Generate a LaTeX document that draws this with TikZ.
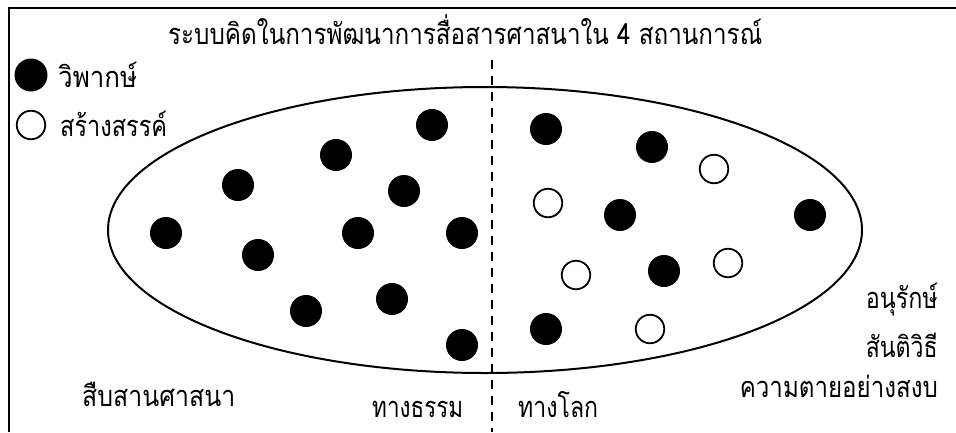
\documentclass[tikz,border=0pt]{standalone}
\usepackage{fontspec}
\usepackage{graphicx}
\usetikzlibrary{shapes.geometric}
\newfontfamily\thai[Script=Thai]{Loma}
\newcommand{\tw}[2]{\resizebox{#1}{\height}{#2}}
\begin{document}
\begin{tikzpicture}[x=1pt,y=-1pt,
  lbl/.style={font=\thai\fontsize{29}{32}\selectfont, inner sep=0pt},
  fdot/.style={circle, fill=black, minimum size=32pt, inner sep=0pt},
  odot/.style={circle, draw=black, line width=1.8pt, fill=white, minimum size=28.5pt, inner sep=0pt},
  frame/.style={line width=2.2pt},
  divider/.style={line width=2pt, dash pattern=on 9pt off 7pt}]
\useasboundingbox (0,0) rectangle (956,432);
% frame
\coordinate (fl) at (9,432);
\coordinate (fc) at (9,8);
\coordinate (fr) at (956,8);
\draw[frame] (fl) -- (fc) -- (fr);
% ellipse
\node[draw, line width=2pt, ellipse, inner sep=0pt, minimum width=754pt, minimum height=286pt] (ell) at (485,230) {};
% dashed divider
\coordinate (dtop) at (492,60);
\coordinate (dbot) at (492,432);
\draw[divider] (dtop) -- (dbot);
% title
\node[lbl, anchor=base west] (title) at (168,44) {\tw{594pt}{ระบบคิดในการพัฒนาการสื่อสารศาสนาใน 4 สถานการณ์}};
% legend
\node[fdot, minimum width=31pt, minimum height=33pt] (lf) at (31,75) {};
\node[odot] (lo) at (31,125) {};
\node[lbl, anchor=base west] (lft) at (58,87) {\tw{79pt}{วิพากษ์}};
\node[lbl, anchor=base west] (lot) at (60,136) {\tw{107pt}{สร้างสรรค์}};
% left dots
\node[fdot] (a1) at (432,125) {};
\node[fdot] (a2) at (336,155) {};
\node[fdot] (a3) at (238,185) {};
\node[fdot] (a4) at (404,191) {};
\node[fdot] (a5) at (166,233) {};
\node[fdot] (a6) at (358,233) {};
\node[fdot] (a7) at (462,233) {};
\node[fdot] (a8) at (258,255) {};
\node[fdot] (a9) at (392,299) {};
\node[fdot] (a10) at (306,311) {};
\node[fdot] (a11) at (462,345) {};
% right dots
\node[fdot] (b1) at (546,129) {};
\node[fdot] (b2) at (652,147) {};
\node[odot] (b3) at (714,169) {};
\node[odot] (b4) at (548,203) {};
\node[fdot] (b5) at (620,215) {};
\node[fdot] (b6) at (810,215) {};
\node[odot] (b7) at (576,275) {};
\node[fdot] (b8) at (664,271) {};
\node[odot] (b9) at (728,263) {};
\node[fdot] (b10) at (546,329) {};
\node[odot] (b11) at (650,329) {};
% right labels
\node[lbl, anchor=base east] (r1) at (938,308) {\tw{72pt}{อนุรักษ์}};
\node[lbl, anchor=base east] (r2) at (938,357) {\tw{72pt}{สันติวิธี}};
\node[lbl, anchor=base east] (r3) at (938,397) {\tw{198pt}{ความตายอย่างสงบ}};
% bottom labels
\node[lbl, anchor=base west] (s1) at (82,406) {\tw{153pt}{สืบสานศาสนา}};
\node[lbl, anchor=base west] (s2) at (372,417) {\tw{91pt}{ทางธรรม}};
\node[lbl, anchor=base west] (s3) at (518,417) {\tw{80pt}{ทางโลก}};
\end{tikzpicture}
\end{document}
